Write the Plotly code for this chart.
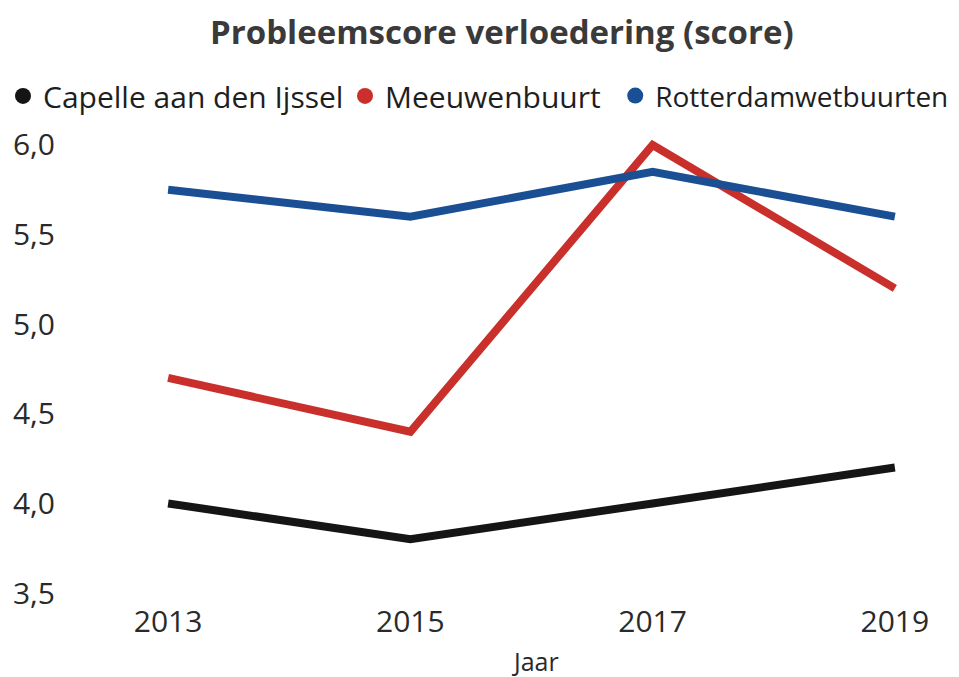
import plotly.graph_objects as go

years = [2013, 2015, 2017, 2019]
capelle = [4.0, 3.8, 4.0, 4.2]
meeuwenbuurt = [4.7, 4.4, 6.0, 5.2]
rotterdam = [5.75, 5.6, 5.85, 5.6]
series_names = ["Capelle aan den Ijssel", "Meeuwenbuurt", "Rotterdamwetbuurten"]
colors = ["#151515", "#c9302c", "#1b4f93"]
y_ticks = [3.5, 4.0, 4.5, 5.0, 5.5, 6.0]

legend_ids = ["legend", "legend2", "legend3"]

fig = go.Figure()
for name, vals, col in zip(series_names, [capelle, meeuwenbuurt, rotterdam], colors):
    fig.add_trace(go.Scatter(
        x=years, y=vals, name=name, mode="lines", showlegend=False,
        line=dict(color=col, width=8), legendgroup=name,
    ))
# legend entries drawn as circle markers, one legend box each
for name, col, lg in zip(series_names, colors, legend_ids):
    fig.add_trace(go.Scatter(
        x=[None], y=[None], name=name, mode="markers", legendgroup=name,
        legend=lg, marker=dict(color=col, size=19, symbol="circle"),
    ))

legend_common = dict(orientation="h", xanchor="left", y=1.086, yanchor="middle",
                     itemwidth=30, bgcolor="rgba(0,0,0,0)")

fig.update_layout(
    width=959, height=677,
    paper_bgcolor="white", plot_bgcolor="white",
    separators=",.",
    font=dict(family="Open Sans, sans-serif", color="#2a2a2a", size=30),
    title=dict(text="<b>Probleemscore verloedering (score)</b>", x=0.515, xanchor="center",
               y=0.9645, yanchor="middle", font=dict(size=33, color="#3a3a3a")),
    legend=dict(x=-0.0779, font=dict(size=30, color="#1e1e1e"), **legend_common),
    legend2=dict(x=0.3198, font=dict(size=30, color="#1e1e1e"), **legend_common),
    legend3=dict(x=0.634, font=dict(size=28, color="#1e1e1e"), **legend_common),
    margin=dict(l=62, r=37, t=128, b=83, autoexpand=False),
    showlegend=True,
    annotations=[dict(text="Jaar", xref="paper", yref="paper", x=0.541, y=-0.127,
                      xanchor="center", yanchor="middle", showarrow=False,
                      font=dict(size=25, color="#2a2a2a"))],
)
fig.update_xaxes(
    range=[2012.19, 2019.29], tickvals=years, ticktext=[str(y) for y in years],
    showgrid=False, zeroline=False, showline=False,
    ticks="", ticklabelstandoff=-1,
    tickfont=dict(size=30, color="#2a2a2a"),
)
fig.update_yaxes(
    range=[3.45, 6.05], tickvals=y_ticks, tickformat=".1f",
    showgrid=False, zeroline=False, showline=False,
    ticks="outside", ticklen=8, tickcolor="rgba(0,0,0,0)",
    tickfont=dict(size=30, color="#2a2a2a"),
)
fig.write_html("out.html")
